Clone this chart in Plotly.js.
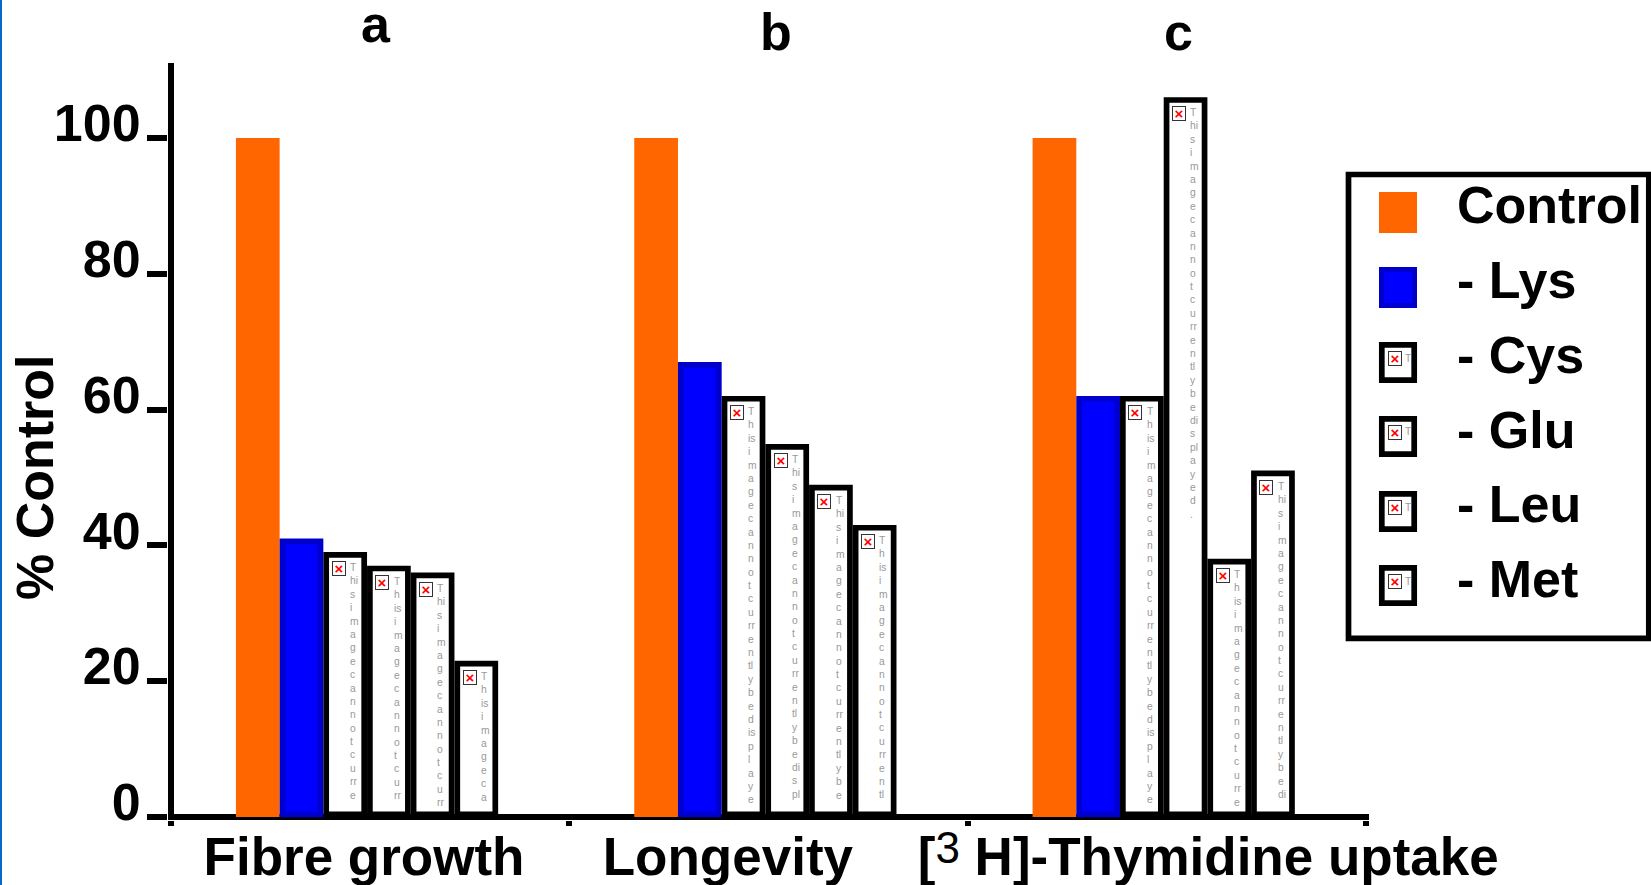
<!DOCTYPE html>
<html><head><meta charset="utf-8">
<script src="https://cdn.plot.ly/plotly-3.0.1.min.js"></script>
<style>html,body{margin:0;padding:0;background:#fff;overflow:hidden}
#strip{position:absolute;left:0;top:0;width:2px;height:885px;background:#0a68c8;z-index:5}
#g{position:absolute;left:0;top:0;width:1651px;height:885px}</style>
</head><body><div id="strip"></div><div id="g"></div>
<script>
// ---------- data ----------
const groupPositions = [0.49, 1.49, 2.49];
const panelLetters = ['a', 'b', 'c'];
const seriesNames = ['Control', '- Lys', '- Cys', '- Glu', '- Leu', '- Met'];
const control = [100, 100, 100];
const lys = [40.6, 66.6, 61.6];
const cys = [38.6, 61.6, 61.6];
const glu = [36.6, 54.5, 105.6];
const leu = [35.6, 48.5, 37.6];
const met = [22.6, 42.6, 50.6];
const yTicks = [0, 20, 40, 60, 80, 100];
const xBoundaries = [0, 1, 2, 3];
const xLabelPositions = [0.4846, 1.398, 2.604];
const xLabels = ['Fibre growth', 'Longevity',
  '[<span style="font-size:28px"><sup><span style="font-size:44px;font-weight:normal">3</span></sup></span> H]-Thymidine uptake'];
// placeholder text seen wrapped inside the hollow bars
const cysText = ['T hi s i m a g e c a n n o t c u rr e',
  'T h is i m a g e c a n n o t c u rr e n tl y b e d is p l a y e',
  'T h is i m a g e c a n n o t c u rr e n tl y b e d is p l a y e'];
const gluText = ['T h is i m a g e c a n n o t c u rr',
  'T hi s i m a g e c a n n o t c u rr e n tl y b e di s pl',
  'T hi s i m a g e c a n n o t c u rr e n tl y b e di s pl a y e d .'];
const leuText = ['T hi s i m a g e c a n n o t c u rr',
  'T hi s i m a g e c a n n o t c u rr e n tl y b e',
  'T h is i m a g e c a n n o t c u rr e'];
const metText = ['T h is i m a g e c a',
  'T h is i m a g e c a n n o t c u rr e n tl',
  'T hi s i m a g e c a n n o t c u rr e n tl y b e di'];
const orange = '#ff6600', blue = '#0000ff', blueEdge = '#0000cc';

// ---------- layout constants ----------
const L = 168, R = 1369, T = 63, B = 820, FONT = 'Liberation Sans, Arial, sans-serif';
const UNIT = 398.3, SLOT = 43.7 / UNIT, START = -0.327, STROKE = 5.7, INSET = (STROKE / 2) / UNIT;
const BASE = 0.39;
const X = p => (p - L) / (R - L), Y = p => (B - p) / (B - T);
const bold = (size, color) => ({family: FONT, size, color: color || '#000', weight: 700});

function barTrace(k, name, vals, fill, edge) {
  const stroked = !!edge;
  return {type: 'bar', name, x: groupPositions,
    y: stroked ? vals.map(v => v - BASE) : vals,
    base: stroked ? BASE : 0,
    offset: START + k * SLOT + (stroked ? INSET : 0),
    width: SLOT - (stroked ? 2 * INSET : 0),
    marker: {color: fill, line: {color: edge || fill, width: stroked ? STROKE : 0}},
    showlegend: false, hoverinfo: 'name+y'};
}
const data = [
  barTrace(0, seriesNames[0], control, orange, null),
  barTrace(1, seriesNames[1], lys, blue, blueEdge),
  barTrace(2, seriesNames[2], cys, '#fff', '#000'),
  barTrace(3, seriesNames[3], glu, '#fff', '#000'),
  barTrace(4, seriesNames[4], leu, '#fff', '#000'),
  barTrace(5, seriesNames[5], met, '#fff', '#000')
];

const annotations = [], shapes = [];
function iconAt(cfg) {
  annotations.push(Object.assign({text: '<b>×</b>', showarrow: false, xanchor: 'left', yanchor: 'top',
    width: 12, height: 13, borderpad: 0, borderwidth: 1, bordercolor: '#333', bgcolor: '#fff',
    font: {family: FONT, size: 15, color: '#f00'}}, cfg));
}
[[2, cys, cysText], [3, glu, gluText], [4, leu, leuText], [5, met, metText]].forEach(([k, vals, txt]) => {
  groupPositions.forEach((g, i) => {
    const left = g + START + k * SLOT;
    iconAt({x: left, y: vals[i], xshift: 8.3, yshift: -6.5});
    annotations.push({x: left, y: vals[i], xshift: 26.5, yshift: -7.5, showarrow: false,
      xanchor: 'left', yanchor: 'top', align: 'left', borderpad: 0, borderwidth: 0,
      text: txt[i].split(' ').join('<br>'),
      font: {family: FONT, size: 10.3, color: '#999999'}});
  });
});

// panel letters
[[376, 24], [776, 32], [1178, 32]].forEach((p, i) => annotations.push({
  xref: 'paper', yref: 'paper', x: X(p[0]), y: Y(p[1]), text: panelLetters[i], showarrow: false,
  xanchor: 'center', yanchor: 'middle', font: bold(52)}));

// y axis title
annotations.push({xref: 'paper', yref: 'paper', x: X(35), y: Y(477), text: '% Control', showarrow: false,
  textangle: -90, xanchor: 'center', yanchor: 'middle', font: bold(52)});

// hand-built key (Plotly's legend swatches cannot grow to this size)
const rect = (x0, y0, x1, y1, fill, line, w) => shapes.push({type: 'rect', xref: 'paper', yref: 'paper',
  x0: X(x0), x1: X(x1), y0: Y(y0), y1: Y(y1), fillcolor: fill, line: {color: line, width: w}});
rect(1348.5, 174.5, 1648.8, 638.3, '#fff', '#000', 5.7);
const rowTops = [192, 267, 342, 416, 491, 565];
const rowText = [204.5, 279.6, 354.5, 429.5, 504, 578.5];
seriesNames.forEach((name, i) => {
  const t = rowTops[i];
  if (i === 0) rect(1379, t, 1417, t + 41, orange, orange, 0);
  else if (i === 1) rect(1381.5, t + 2.5, 1414.5, t + 38.5, blue, blueEdge, 5);
  else {
    rect(1381.8, t + 2.8, 1414.2, t + 38.2, '#fff', '#000', 5.7);
    iconAt({xref: 'paper', yref: 'paper', x: X(1388), y: Y(t + 9)});
    annotations.push({xref: 'paper', yref: 'paper', x: X(1408), y: Y(t + 16), text: 'T', showarrow: false,
      xanchor: 'center', yanchor: 'middle', font: {family: FONT, size: 10.3, color: '#999999'}});
  }
  annotations.push({xref: 'paper', yref: 'paper', x: X(1457), y: Y(rowText[i]), text: name, showarrow: false,
    xanchor: 'left', yanchor: 'middle', borderpad: 0, borderwidth: 0, font: bold(52)});
});

const layout = {
  width: 1651, height: 885, paper_bgcolor: '#fff', plot_bgcolor: '#fff', barmode: 'overlay',
  margin: {l: L, r: 1651 - R, t: T, b: 885 - B, pad: 0, autoexpand: false}, showlegend: false,
  xaxis: {range: [-3 / UNIT, 3 + 3 / UNIT], showgrid: false, showline: false, zeroline: true,
    zerolinecolor: '#000', zerolinewidth: 6, tickmode: 'array', tickvals: xLabelPositions, ticktext: xLabels,
    ticks: '', tickfont: bold(53), automargin: false, ticklabelstandoff: 1,
    minor: {tickmode: 'array', tickvals: xBoundaries, ticks: 'outside', ticklen: 5, tickwidth: 6, tickcolor: '#000', showgrid: false}},
  yaxis: {range: [-3 / 6.79, (817 - 63) / 6.79], showgrid: false, showline: false, zeroline: true,
    zerolinecolor: '#000', zerolinewidth: 6, tickmode: 'array', tickvals: yTicks,
    ticks: 'outside', ticklen: 20, tickwidth: 6, tickcolor: '#000',
    tickfont: bold(52), ticklabelshift: -15, ticklabelstandoff: -4, automargin: false},
  annotations, shapes
};
Plotly.newPlot('g', data, layout, {staticPlot: true, displayModeBar: false});
</script></body></html>
